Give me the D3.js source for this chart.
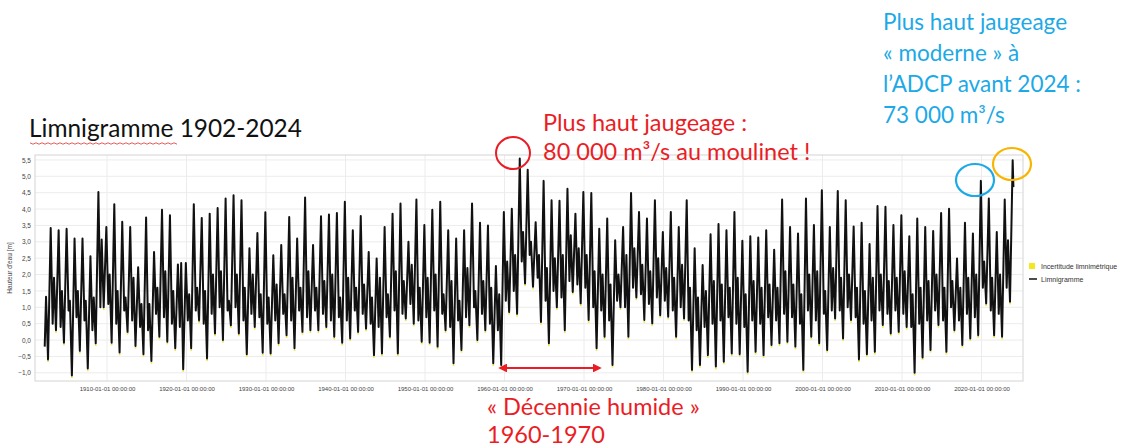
<!DOCTYPE html>
<html>
<head>
<meta charset="utf-8">
<script src="https://cdn.jsdelivr.net/npm/d3@7"></script>
<style>
  body { margin: 0; background: #fff; }
  svg { display: block; }
</style>
</head>
<body>
<svg id="chart"></svg>
<script>
// one cycle per year, 1902 -> 2023 (Congo-like regime: Mar low, May bump, Aug low, Dec flood)
var firstYear = 1902;

var marLow = [
  -0.20, 0.50, 0.40, 0.90, 0.70, 0.60, 0.30, 1.00, 1.10, 0.50,
  0.90, 0.60, 0.40, 0.30, 0.80, 0.70, 0.50, 0.40, 0.60, 0.90,
  0.50, 0.80, 1.00, 0.90, 1.00, 0.60, 0.80, 0.70, 0.50, 0.60,
  0.80, 0.60, 0.90, 0.70, 0.90, 0.80, 0.60, 0.70, 0.60, 0.90,
  0.80, 0.50, 0.40, 0.70, 0.90, 0.80, 1.10, 0.60, 0.70, 0.90,
  0.80, 0.40, 0.60, 0.70, 1.00, 0.80, 0.50, 0.30, 1.20, 1.50,
  2.40, 2.60, 1.90, 1.20, 1.50, 1.30, 1.80, 1.70, 1.60, 1.00,
  0.90, 0.60, 1.20, 1.00, 1.60, 1.40, 1.10, 1.30, 1.20, 0.90,
  1.00, 0.60, 0.30, 0.40, 0.50, 0.60, 0.70, 0.50, 0.40, 0.60,
  0.50, 0.70, 0.60, 0.80, 0.70, 0.50, 0.90, 0.60, 0.80, 0.90,
  0.90, 1.00, 0.70, 0.50, 0.60, 0.90, 0.80, 0.90, 0.80, 0.40,
  0.50, 0.60, 0.90, 0.60, 1.00, 0.60, 0.80, 0.70, 1.60, 0.90,
  0.80, 1.60
];

var mayPeak = [
  1.32, 1.90, 1.50, 1.20, 1.50, 1.20, 1.30, 3.07, 2.00, 1.50,
  1.30, 1.90, 1.10, 1.10, 1.60, 2.10, 1.50, 2.35, 1.40, 1.60,
  1.50, 2.00, 2.10, 1.20, 2.00, 1.60, 2.00, 1.40, 1.30, 1.70,
  1.40, 1.90, 1.60, 2.10, 1.60, 1.80, 2.00, 1.30, 1.90, 1.60,
  1.70, 1.30, 1.90, 1.40, 2.10, 1.80, 2.30, 1.60, 1.90, 2.00,
  1.40, 1.80, 1.20, 2.20, 1.50, 1.80, 1.60, 1.40, 2.40, 2.60,
  3.30, 3.00, 2.60, 2.20, 2.50, 2.60, 3.20, 2.80, 2.60, 2.10,
  2.00, 1.70, 2.00, 2.60, 2.80, 2.30, 2.10, 2.50, 2.20, 1.90,
  2.30, 1.60, 1.30, 1.50, 1.80, 1.70, 1.60, 1.90, 1.40, 1.80,
  1.60, 1.70, 1.60, 2.10, 1.70, 1.40, 2.00, 2.10, 1.50, 2.20,
  1.90, 2.00, 1.60, 1.50, 1.90, 2.00, 1.80, 1.90, 2.10, 1.40,
  1.60, 1.80, 2.00, 1.60, 1.80, 1.60, 1.90, 2.00, 2.40, 1.90,
  2.00, 3.05
];

var augLow = [
  -0.59, 0.30, -0.08, -1.08, -0.33, -0.87, -0.10, 1.00, -0.08, -0.38,
  0.25, -0.18, -0.43, -0.64, 0.10, -0.05, -0.25, -0.89, -0.25, 0.60,
  -0.56, 0.20, 0.00, 0.45, 0.20, -0.43, 0.40, -0.39, -0.41, -0.10,
  0.15, -0.25, 0.25, 0.30, 0.30, 0.40, 0.10, -0.08, 0.05, 0.25,
  0.35, -0.46, -0.41, 0.10, -0.41, 0.66, 0.50, -0.05, -0.08, -0.20,
  0.30, -0.71, -0.30, 0.45, 0.00, 0.30, -0.71, -0.76, 0.86, 0.80,
  1.73, 1.63, 0.55, -0.10, 1.00, 0.30, 1.47, 1.12, 0.61, -0.25,
  0.10, -0.76, 1.00, 0.10, 1.30, 0.61, 0.51, 0.76, 0.71, 0.10,
  0.66, -0.91, -0.76, -0.46, -0.81, -0.66, -0.41, -0.43, -0.97, -0.36,
  -0.46, -0.15, -0.10, -0.05, -0.20, -0.91, 0.10, -0.10, -0.30, 0.66,
  0.05, 0.61, -0.59, -0.43, -0.36, 0.46, 0.20, 0.25, 0.40, -1.00,
  -0.53, -0.30, 0.46, -0.36, 0.30, -0.15, 0.05, 0.15, 1.12, 0.15,
  0.10, 1.17
];

var decPeak = [
  3.42, 3.35, 3.40, 3.10, 3.10, 2.56, 4.52, 3.45, 4.15, 3.61,
  3.45, 2.22, 3.74, 2.69, 3.98, 3.81, 2.31, 2.35, 4.15, 3.73,
  3.86, 4.03, 4.32, 4.42, 4.27, 2.80, 3.27, 3.90, 2.59, 2.90,
  3.76, 3.10, 4.35, 2.90, 3.78, 3.83, 3.88, 4.22, 3.35, 3.79,
  2.69, 2.49, 3.45, 3.86, 4.17, 3.00, 4.29, 3.51, 3.98, 4.22,
  3.35, 3.10, 3.35, 4.17, 3.58, 3.50, 2.26, 3.91, 4.01, 5.54,
  5.20, 3.60, 4.86, 4.27, 4.25, 4.62, 3.86, 4.52, 4.49, 3.40,
  3.71, 3.05, 3.45, 4.49, 3.91, 3.71, 4.27, 3.30, 3.91, 3.45,
  4.27, 2.80, 2.29, 3.23, 3.54, 3.35, 3.91, 3.03, 3.17, 3.13,
  3.35, 2.76, 4.29, 3.45, 3.25, 4.32, 3.51, 4.57, 3.45, 4.55,
  4.27, 3.47, 3.58, 2.93, 4.09, 4.07, 3.51, 3.81, 3.17, 3.71,
  3.45, 3.33, 3.88, 4.01, 2.49, 3.58, 3.25, 4.86, 4.32, 3.30,
  4.29, 5.49
];

// last reading, january 2024
var lastDate = "2024-01-05";
var lastValue = 4.67;

var yTicks = [-1.0, -0.5, 0.0, 0.5, 1.0, 1.5, 2.0, 2.5, 3.0, 3.5, 4.0, 4.5, 5.0, 5.5];
var xTickYears = [1910, 1920, 1930, 1940, 1950, 1960, 1970, 1980, 1990, 2000, 2010, 2020];

// build the time series
var series = [];
decPeak.forEach(function(p, i) {
  var yr = firstYear + i;
  series.push({date: new Date(yr, 2, 1), value: marLow[i]});
  series.push({date: new Date(yr, 4, 1), value: mayPeak[i]});
  series.push({date: new Date(yr, 7, 1), value: augLow[i], low: true});
  series.push({date: new Date(yr, 11, 1), value: p});
});
series.push({date: new Date(lastDate), value: lastValue});

var W = 1123, H = 448;
var plot = {left: 35, right: 1023, top: 155, bottom: 381};

var svg = d3.select("#chart").attr("width", W).attr("height", H);

var x = d3.scaleTime()
    .domain([new Date(1900, 11, 10), new Date(2025, 2, 20)])
    .range([plot.left, plot.right]);
var y = d3.scaleLinear()
    .domain([-1.25, 5.65])
    .range([plot.bottom, plot.top]);

// grid
svg.append("g")
  .selectAll("line")
  .data(yTicks)
  .enter().append("line")
  .attr("x1", plot.left).attr("x2", plot.right)
  .attr("y1", (d) => y(d)).attr("y2", (d) => y(d))
  .attr("stroke", "#ececec").attr("stroke-width", 1);

svg.append("g")
  .selectAll("line")
  .data(xTickYears)
  .enter().append("line")
  .attr("x1", (d) => x(new Date(d, 0, 1))).attr("x2", (d) => x(new Date(d, 0, 1)))
  .attr("y1", plot.top).attr("y2", plot.bottom)
  .attr("stroke", "#ececec").attr("stroke-width", 1);

svg.append("rect")
  .attr("x", plot.left).attr("y", plot.top)
  .attr("width", plot.right - plot.left).attr("height", plot.bottom - plot.top)
  .attr("fill", "none").attr("stroke", "#d4d4d4");

// axes (labels only, like the original tool)
var fmt = d3.format(".1f");
var yAxis = d3.axisLeft(y).tickValues(yTicks).tickSize(0).tickPadding(4)
    .tickFormat((d) => fmt(d).replace(".", ","));
svg.append("g")
  .attr("transform", "translate(" + plot.left + ",0)")
  .call(yAxis)
  .call((g) => g.select(".domain").remove())
  .selectAll("text")
  .attr("font-family", "Liberation Sans, Arial, sans-serif")
  .attr("font-size", 6.5).attr("fill", "#444");

var xAxis = d3.axisBottom(x)
    .tickValues(xTickYears.map((d) => new Date(d, 0, 1)))
    .tickSize(0).tickPadding(6)
    .tickFormat(d3.timeFormat("%Y-%m-%d %H:%M:%S"));
svg.append("g")
  .attr("transform", "translate(0," + plot.bottom + ")")
  .call(xAxis)
  .call((g) => g.select(".domain").remove())
  .selectAll("text")
  .attr("font-family", "Liberation Sans, Arial, sans-serif")
  .attr("font-size", 6).attr("fill", "#444");

svg.append("text")
  .attr("transform", "translate(12," + ((plot.top + plot.bottom) / 2) + ") rotate(-90)")
  .attr("text-anchor", "middle")
  .attr("font-family", "Liberation Sans, Arial, sans-serif")
  .attr("font-size", 6.5).attr("fill", "#444")
  .text("Hauteur d'eau [m]");

// uncertainty markers at the low waters
svg.append("g")
  .selectAll("circle")
  .data(series.filter((d) => d.low))
  .enter().append("circle")
  .attr("cx", (d) => x(d.date))
  .attr("cy", (d) => y(d.value) + 1.8)
  .attr("r", 1.1)
  .attr("fill", "#f3ea5a");

var line = d3.line()
    .x((d) => x(d.date))
    .y((d) => y(d.value));

svg.append("path")
  .datum(series)
  .attr("d", line)
  .attr("fill", "none")
  .attr("stroke", "#111")
  .attr("stroke-width", 2)
  .attr("stroke-linejoin", "round");

// legend
var leg = svg.append("g").attr("font-family", "Liberation Sans, Arial, sans-serif")
  .attr("font-size", 7).attr("fill", "#333");
leg.append("rect").attr("x", 1029).attr("y", 263).attr("width", 6).attr("height", 6).attr("fill", "#f3e81a");
leg.append("text").attr("x", 1041).attr("y", 268.5).text("Incertitude limnimétrique");
leg.append("line").attr("x1", 1029).attr("x2", 1037).attr("y1", 279).attr("y2", 279)
  .attr("stroke", "#111").attr("stroke-width", 1.5);
leg.append("text").attr("x", 1041).attr("y", 281.5).text("Limnigramme");

// title
var font = "Lato, 'Open Sans', sans-serif";
svg.append("text")
  .attr("x", 29).attr("y", 137)
  .attr("font-family", font).attr("font-size", 24.4).attr("fill", "#111")
  .text("Limnigramme 1902-2024");

// spell-check squiggle under "Limnigramme"
var sq = [];
for (var i = 0; i <= 49; i++) sq.push([30 + i * 3, 143 + (i % 2 ? 1.2 : -0.2)]);
svg.append("path")
  .attr("d", d3.line()(sq))
  .attr("fill", "none").attr("stroke", "#e03030").attr("stroke-width", 0.8);

// annotations
var red = "#ea1d25", blue = "#1ca9e6", orange = "#f7b500";

svg.append("ellipse")
  .attr("cx", 513).attr("cy", 153).attr("rx", 17).attr("ry", 16)
  .attr("fill", "none").attr("stroke", red).attr("stroke-width", 2);

var redTxt = svg.append("g").attr("font-family", font).attr("font-size", 23.5).attr("fill", red);
redTxt.append("text").attr("x", 543).attr("y", 131).text("Plus haut jaugeage :");
redTxt.append("text").attr("x", 543).attr("y", 160).text("80 000 m³/s au moulinet !");
redTxt.append("text").attr("x", 487).attr("y", 415).text("« Décennie humide »");
redTxt.append("text").attr("x", 487).attr("y", 443).text("1960-1970");

// double arrow 1960-1970
svg.append("defs").append("marker")
  .attr("id", "ah").attr("viewBox", "0 0 10 10").attr("refX", 8).attr("refY", 5)
  .attr("markerWidth", 4).attr("markerHeight", 4).attr("orient", "auto-start-reverse")
  .append("path").attr("d", "M0,0L10,5L0,10z").attr("fill", red);
svg.append("line")
  .attr("x1", 500).attr("x2", 600).attr("y1", 368).attr("y2", 368)
  .attr("stroke", red).attr("stroke-width", 2.2)
  .attr("marker-start", "url(#ah)").attr("marker-end", "url(#ah)");

var blueTxt = svg.append("g").attr("font-family", font).attr("font-size", 22.5).attr("fill", blue);
["Plus haut jaugeage", "« moderne » à", "l’ADCP avant 2024 :", "73 000 m³/s"].forEach(function(t, i) {
  blueTxt.append("text").attr("x", 883).attr("y", 30 + i * 31).text(t);
});

svg.append("ellipse")
  .attr("cx", 975).attr("cy", 180).attr("rx", 19).attr("ry", 16)
  .attr("fill", "none").attr("stroke", blue).attr("stroke-width", 2.2);
svg.append("ellipse")
  .attr("cx", 1012).attr("cy", 164).attr("rx", 19).attr("ry", 16)
  .attr("fill", "none").attr("stroke", orange).attr("stroke-width", 2.2);
</script>
</body>
</html>
